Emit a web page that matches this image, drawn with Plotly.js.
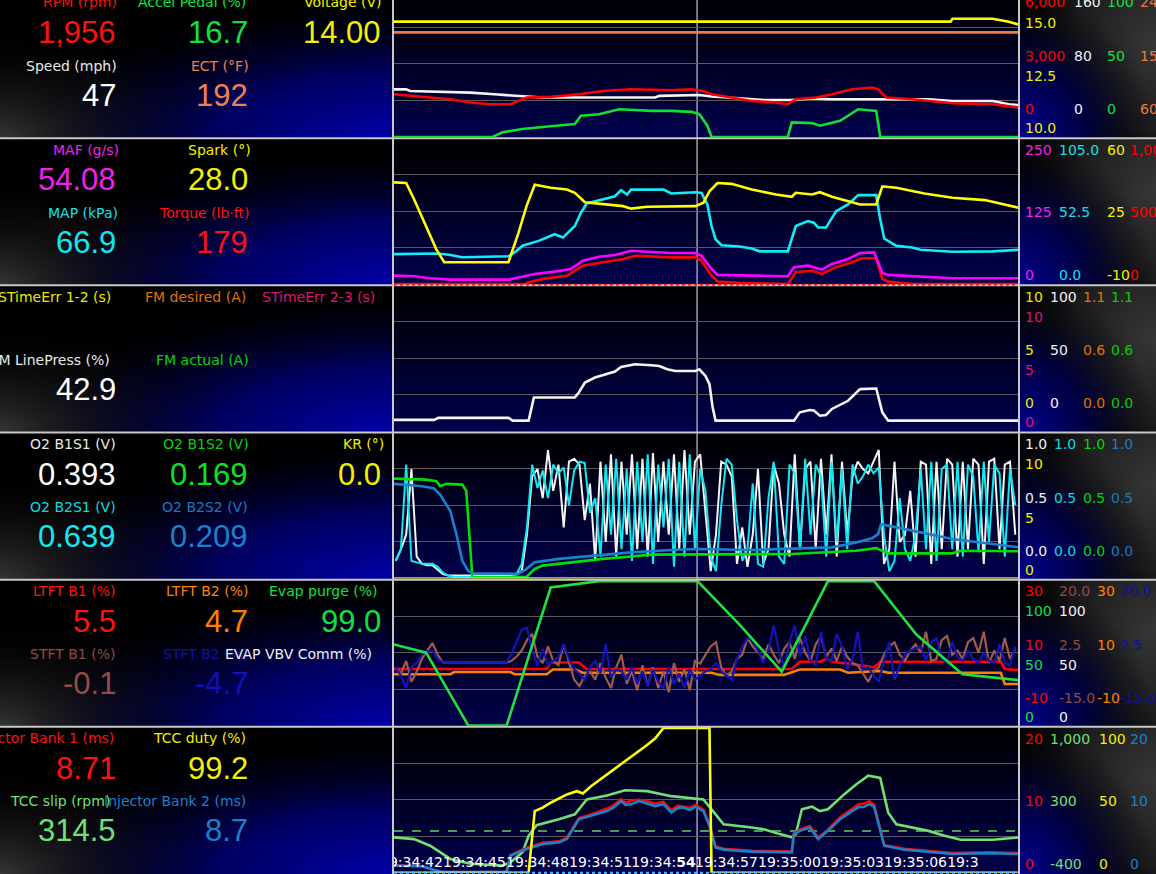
<!DOCTYPE html>
<html><head><meta charset="utf-8">
<script src="https://cdn.plot.ly/plotly-3.0.1.min.js"></script>
<style>
html,body{margin:0;padding:0;background:#000;overflow:hidden;width:1156px;height:874px;}
#chart{position:absolute;left:0;top:-9px;width:1156px;height:883px;}
</style></head><body><div id="chart"></div>
<script>
// ================= DATA (time in seconds after 19:34:00) =================
const timeTickVals = [42,45,48,51,54,57,60,63,66,69];
const timeTickText = ["19:34:42","19:34:45","19:34:48","19:34:51","19:34:<b>54</b>","19:34:57","19:35:00","19:35:03","19:35:06","19:3\u00a0\u00a0\u00a0\u00a0\u00a0\u00a0\u00a0"];
const cursorTime = 55.6;

// Panel 1
const tRpm = [41.17,41.94,42.89,43.85,44.81,45.76,46.72,47.10,47.48,48.63,49.97,51.12,52.46,54.37,55.33,55.90,56.29,57.24,58.20,59.35,59.92,60.30,61.26,62.02,62.98,63.94,64.22,64.61,65.85,67.76,69.68,70.92];
const rpm  = [1755,1686,1620,1551,1416,1347,1347,1482,1620,1650,1755,1890,1959,1918,1959,1890,1755,1620,1482,1416,1347,1551,1620,1755,1959,2029,1959,1620,1551,1388,1347,1212];
const tSpeed = [41.17,41.75,41.94,44.81,45.95,47.10,48.25,53.61,53.80,55.71,56.29,57.62,58.77,60.11,61.07,62.02,66.62,67.76,69.68,70.44,70.92];
const speed  = [52.2,52.2,50.4,48.6,46.8,45.0,43.2,43.2,45.0,46.0,44.3,42.4,40.6,40.6,42.1,41.4,41.4,39.5,39.5,35.9,34.8];
const tAccel = [41.17,45.86,46.34,47.29,48.63,49.78,50.07,50.93,51.89,53.42,54.37,55.33,55.71,56.09,56.29,59.92,60.11,61.07,61.45,62.41,63.27,64.13,64.32,70.92];
const accel  = [0,0,3.2,5.4,7.3,8.8,14.5,15.6,19.0,17.9,17.9,17.2,15.6,7.7,0,0,10.0,9.5,7.7,11.1,19.0,17.9,0,0];
const tEct = [41.17,70.92];
const ect  = [189,189];
const tVolt = [41.17,67.67,67.76,69.68,70.44,70.92];
const volt  = [13.95,13.95,14.05,14.05,13.95,13.85];

// Panel 2
const tSpark = [41.17,41.75,42.13,42.70,43.18,43.56,46.62,47.10,47.48,47.87,48.63,49.40,49.78,50.26,51.31,52.08,52.46,53.22,55.52,55.90,56.19,56.57,57.24,58.20,59.35,60.11,60.30,61.07,61.45,62.02,62.98,63.36,64.13,64.42,65.09,66.42,67.76,69.30,70.92];
const spark  = [38.8,38.5,30.6,17.9,6.8,0.5,0.5,14.7,27.4,37.7,36.2,35.4,33.8,29.3,28.2,27.4,26.2,27.1,27.4,29.0,34.5,38.5,38.1,35.4,33.0,31.9,33.8,33.0,34.1,31.9,29.3,28.2,28.2,36.9,36.2,33.5,31.4,30.3,26.6];
const tMap = [41.17,43.28,43.85,44.42,46.62,46.91,47.29,48.06,48.82,49.21,49.78,50.07,50.35,51.12,51.69,51.98,52.27,52.46,54.00,54.37,55.52,55.81,56.09,56.29,56.48,56.76,57.62,58.20,58.58,59.92,60.30,60.88,61.16,61.36,61.74,62.22,62.79,63.27,64.13,64.32,64.51,65.09,65.85,66.23,67.76,69.68,70.92];
const mapKpa = [21.6,22.0,20.9,19.3,20.0,22.8,27.6,31.1,35.9,33.5,41.8,51.4,58.0,60.9,63.2,67.5,64.5,68.0,68.0,65.2,66.1,65.6,57.3,41.8,32.3,28.0,27.1,25.7,23.6,23.6,41.8,45.4,44.2,40.7,40.7,52.5,57.3,64.0,64.0,46.6,32.8,27.5,26.4,24.7,23.3,23.6,24.7];
const tMaf = [41.17,42.13,42.89,43.85,46.62,47.10,47.87,48.82,49.59,50.16,50.93,51.69,52.46,53.22,54.37,55.52,55.81,56.29,56.57,58.20,59.92,60.21,60.88,61.55,62.02,62.79,63.36,64.03,64.42,64.70,65.85,67.76,70.92];
const maf  = [14.6,13.6,10.2,7.8,7.8,11.9,17.5,21.4,26.0,40.1,46.9,49.8,57.1,55.4,53.2,53.2,48.6,26.0,15.8,14.6,13.6,28.9,31.6,24.8,34.5,43.0,53.2,54.4,19.2,15.8,13.6,10.2,10.2];
const tTorque = [41.17,47.39,47.48,48.25,49.40,50.16,51.12,52.08,52.65,54.37,55.52,55.81,56.29,56.57,57.62,59.92,60.30,61.07,61.55,62.22,62.98,63.46,64.13,64.42,64.70,65.85,70.92];
const torque  = [0,0,8,36,58,126,150,172,194,183,183,160,58,18,9,0,82,92,70,116,150,177,177,36,18,0,0];

// Panel 3
const tLine = [41.17,43.08,43.28,46.62,46.82,47.58,47.83,49.78,49.97,50.26,50.74,51.31,51.69,51.98,52.65,53.42,53.80,54.18,54.56,55.52,55.71,56.00,56.19,56.34,56.48,60.21,60.49,60.97,61.16,61.45,61.74,62.02,62.79,63.36,64.13,64.42,64.70,70.92];
const linePress = [7.8,7.8,9.2,9.2,7.3,7.3,23.2,23.2,26.6,33.4,36.8,39.5,40.9,44.0,45.9,45.2,44.7,42.5,41.3,41.3,42.5,37.9,32.3,16.4,7.3,7.3,13.0,14.6,14.2,10.7,11.2,15.3,20.9,28.9,29.3,13.0,7.3,7.3];

// Fast-sampled channels (0.25 s)
const tFast = [41.25,41.5,41.75,
 42,42.25,42.5,42.75, 43,43.25,43.5,43.75, 44,44.25,44.5,44.75, 45,45.25,45.5,45.75,
 46,46.25,46.5,46.75, 47,47.25,47.5,47.75, 48,48.25,48.5,48.75, 49,49.25,49.5,49.75,
 50,50.25,50.5,50.75, 51,51.25,51.5,51.75, 52,52.25,52.5,52.75, 53,53.25,53.5,53.75,
 54,54.25,54.5,54.75, 55,55.25,55.5,55.75, 56,56.25,56.5,56.75, 57,57.25,57.5,57.75,
 58,58.25,58.5,58.75, 59,59.25,59.5,59.75, 60,60.25,60.5,60.75, 61,61.25,61.5,61.75,
 62,62.25,62.5,62.75, 63,63.25,63.5,63.75, 64,64.25,64.5,64.75, 65,65.25,65.5,65.75,
 66,66.25,66.5,66.75, 67,67.25,67.5,67.75, 68,68.25,68.5,68.75, 69,69.25,69.5,69.75,
 70,70.25,70.5,70.75];

// Panel 4
const o2b1s1 = [0.12,0.2,0.3,
 0.75,0.15,0.1,0.09, 0.09,0.06,0.03,0.02, 0.02,0.02,0.02,0.02, 0.02,0.02,0.02,0.02,
 0.02,0.02,0.02,0.02, 0.03,0.05,0.3,0.7, 0.75,0.55,0.88,0.6, 0.78,0.35,0.8,0.82,
 0.78,0.4,0.65,0.12, 0.8,0.25,0.85,0.15, 0.8,0.3,0.85,0.2, 0.82,0.15,0.86,0.25,
 0.8,0.3,0.85,0.2, 0.88,0.3,0.8,0.85, 0.45,0.05,0.3,0.8, 0.78,0.7,0.1,0.35,
 0.08,0.3,0.75,0.1, 0.2,0.78,0.65,0.3, 0.15,0.85,0.2,0.75, 0.8,0.2,0.82,0.3,
 0.85,0.15,0.8,0.3, 0.7,0.8,0.75,0.72, 0.8,0.88,0.1,0.2, 0.8,0.25,0.3,0.6,
 0.15,0.8,0.78,0.1, 0.8,0.2,0.82,0.78, 0.15,0.8,0.2,0.82, 0.78,0.1,0.8,0.82,
 0.2,0.78,0.8,0.3];
const o2b2s1 = [0.12,0.2,0.78,
 0.12,0.11,0.1,0.1, 0.1,0.08,0.04,0.02, 0.01,0.01,0.01,0.01, 0.01,0.01,0.01,0.01,
 0.01,0.01,0.01,0.01, 0.03,0.1,0.35,0.78, 0.62,0.74,0.55,0.78, 0.72,0.76,0.5,0.74,
 0.8,0.79,0.45,0.55, 0.15,0.78,0.3,0.82, 0.2,0.75,0.12,0.8, 0.25,0.85,0.1,0.78,
 0.35,0.82,0.08,0.8, 0.15,0.85,0.2,0.75, 0.6,0.15,0.05,0.5, 0.82,0.78,0.4,0.12,
 0.2,0.65,0.1,0.08, 0.55,0.8,0.15,0.1, 0.78,0.72,0.2,0.82, 0.3,0.78,0.7,0.15,
 0.8,0.25,0.75,0.2, 0.78,0.65,0.7,0.78, 0.72,0.76,0.3,0.05, 0.12,0.55,0.2,0.12,
 0.3,0.75,0.2,0.8, 0.12,0.75,0.78,0.2, 0.8,0.15,0.78,0.7, 0.18,0.8,0.25,0.78,
 0.72,0.15,0.75,0.5];
const tB1S2 = [41.17,42.70,43.18,43.37,43.66,44.42,44.61,44.90,47.48,47.87,48.25,49.59,51.12,52.46,53.42,60.11,62.02,63.17,64.13,64.42,64.70,67.76,68.15,70.92];
const o2b1s2 = [0.684,0.677,0.666,0.632,0.648,0.643,0.6,0.01,0.01,0.066,0.088,0.111,0.134,0.15,0.163,0.168,0.179,0.19,0.208,0.19,0.172,0.172,0.19,0.186];
const tB2S2 = [41.17,42.51,43.08,43.37,43.85,44.14,44.42,44.71,45.00,47.10,47.48,47.87,49.02,50.55,52.46,54.37,55.65,58.20,60.11,62.02,63.17,63.94,64.22,64.36,65.09,65.85,67.76,69.68,70.92];
const o2b2s2 = [0.648,0.632,0.616,0.575,0.462,0.304,0.122,0.05,0.036,0.032,0.066,0.111,0.134,0.156,0.179,0.195,0.202,0.195,0.202,0.213,0.247,0.276,0.304,0.372,0.35,0.326,0.27,0.236,0.213];
const tKr = [41.17,70.92];
const kr  = [0,0];

// Panel 5
const tLtft1 = [41.17,48.44,48.63,49.97,50.35,60.11,60.49,61.45,61.74,62.02,62.79,64.03,64.32,70.06,70.25,70.92];
const ltft1  = [5.5,5.5,7.3,7.3,5.5,5.5,7.5,7.5,8.4,7.5,7.0,6.0,7.5,7.5,5.5,5.2];
const tLtft2 = [41.17,43.85,44.04,46.72,46.91,48.44,48.73,49.78,50.16,56.29,56.67,59.73,60.49,62.41,62.79,64.32,64.70,70.06,70.25,70.92];
const ltft2  = [4.1,4.1,4.7,4.7,4.1,4.1,5.4,5.4,4.5,4.5,3.9,3.9,5.4,5.4,4.5,5.0,4.5,4.5,1.4,1.4];
const stft1 = [-1.0,-2.5,0.5,
 -4.5,-2.0,1.0,3.0, 4.8,2.0,0.1,0.1, 0.1,0.1,0.1,0.1, 0.1,0.1,0.1,0.1,
 0.1,0.1,0.1,0.5, 1.5,3.0,5.5,7.0, 1.5,0.0,4.0,0.5, -0.5,4.5,0.0,-4.0,
 -5.5,-3.0,-2.0,-4.0, 0.0,-3.5,-6.0,-1.0, 2.0,-5.0,-2.0,-6.5, -0.5,-5.5,-1.0,-6.0,
 -2.0,-7.0,0.0,-4.5, -1.5,-6.5,0.5,-0.1, 2.0,4.0,5.0,-1.0, -3.0,-2.0,1.0,2.0,
 6.0,4.0,2.5,1.0, 4.5,2.0,0.0,3.5, 5.0,1.0,6.0,2.5, 0.5,4.5,6.5,1.5,
 3.5,0.5,4.0,1.5, 0.0,-0.5,-2.5,-4.5, -2.0,-1.0,2.0,4.0, 5.0,2.0,0.5,3.0,
 4.5,2.5,7.5,0.5, 1.0,5.5,6.5,2.0, 3.0,1.0,5.0,6.0, 2.5,7.5,0.0,3.0,
 0.5,6.0,1.0,3.5];
const stft2 = [-1.0,-3.0,-6.0,
 -1.0,0.0,2.0,2.8, 3.0,1.0,0.1,0.1, 0.1,0.1,0.1,0.1, 0.1,0.1,0.1,0.1,
 0.1,0.1,0.1,2.0, 5.0,8.0,8.5,3.0, -0.5,3.5,-0.5,0.5, 1.5,4.5,1.0,-1.5,
 -2.5,-4.0,-1.0,0.5, -2.5,4.5,-3.5,-1.5, -2.0,-4.0,-1.0,-5.0, -2.0,-5.5,-1.5,-4.5,
 -6.0,-1.0,-5.0,-2.5, -6.0,-1.5,-4.0,-3.0, -2.0,-1.5,0.0,-2.0, -3.0,-4.0,1.0,4.0,
 6.0,5.5,3.0,0.0, 3.0,9.0,3.0,-1.5, 5.0,9.0,1.5,6.5, 0.5,-0.5,7.5,1.0,
 0.5,7.0,4.0,-1.5, 1.0,7.5,-1.5,-1.0, -3.0,-4.5,0.5,5.0, -4.0,-0.5,2.0,3.0,
 3.5,4.0,0.5,5.0, 6.0,1.0,0.0,5.0, 1.5,0.5,3.0,1.0, 0.0,2.5,0.5,0.0,
 4.5,0.0,-0.5,4.0];
const tEvap = [41.17,42.70,44.71,46.53,48.63,50.93,55.62,57.62,59.63,61.83,64.03,66.04,68.24,70.92];
const evap  = [55.6,50.0,0,0,94.6,99.0,99.0,69.2,37.0,99.0,99.0,62.4,35.2,31.1];

// Panel 6
const tDuty = [41.17,47.58,47.87,48.25,48.63,49.40,49.88,50.16,50.55,51.31,52.08,52.46,53.22,53.61,54.00,56.19,56.29,70.92];
const tccDuty = [0,0,42.3,44.6,48.0,53.7,55.9,54.3,59.3,67.3,75.2,79.7,87.6,92.2,99.2,99.2,0,0];
const tSlip = [41.17,42.13,42.89,43.85,44.81,46.34,46.72,47.29,47.58,47.96,49.02,49.78,50.35,51.31,52.17,53.22,54.37,55.52,55.90,56.29,56.86,58.20,58.77,59.54,60.11,60.30,60.59,61.07,61.45,61.83,62.60,63.17,63.75,64.32,64.70,65.09,65.85,66.62,67.38,68.15,69.68,70.92];
const tccSlip = [-60,-77,-140,-267,-314,-331,-298,-203,-45,56,114,161,304,342,392,383,335,311,304,209,66,34,18,-29,-60,-29,209,234,192,209,352,447,532,510,177,66,34,2,-45,-83,-83,-60];
const tInj = [41.17,42.51,43.08,43.47,46.53,46.72,47.48,48.25,49.02,49.40,49.97,50.55,51.31,51.6,51.98,52.2,52.46,52.84,53.2,53.61,54.0,54.37,54.7,54.95,55.25,55.52,55.90,56.19,56.48,56.86,58.20,60.11,60.21,60.49,60.97,61.36,61.83,62.41,62.98,63.3,63.56,63.8,64.03,64.32,64.51,65.47,67.76,69.5,70.92];
const inj1 = [1.0,0.9,0.4,0.1,0.1,2.4,3.4,4.1,4.3,4.8,7.5,8.0,8.8,9.2,10.1,9.6,9.9,10.0,9.8,9.5,9.7,8.6,9.2,9.1,8.9,9.3,8.7,6.6,3.6,3.3,3.0,2.9,5.4,5.9,6.4,4.8,5.9,7.6,8.7,9.4,9.5,9.8,9.3,6.1,3.8,3.3,2.7,2.8,2.7];
const inj2 = [1.0,0.9,0.4,0.1,0.1,2.35,3.26,3.94,4.17,4.62,7.34,7.78,8.46,8.9,9.82,9.3,9.38,9.82,9.5,9.14,9.4,8.25,8.9,8.93,8.6,9.06,8.46,6.43,3.49,3.17,2.9,2.8,5.3,5.75,6.2,4.62,5.75,7.34,8.46,9.0,9.06,9.4,9.06,5.98,3.71,3.17,2.58,2.7,2.58];

// Readouts (left panels)
const readoutLabels = [
 ["RPM (rpm)","Accel Pedal (%)","Voltage (V)","Speed (mph)","ECT (°F)"],
 ["MAF (g/s)","Spark (°)","MAP (kPa)","Torque (lb·ft)"],
 ["STimeErr 1-2 (s)","FM desired (A)","STimeErr 2-3 (s)","TCM LinePress (%)","FM actual (A)"],
 ["O2 B1S1 (V)","O2 B1S2 (V)","KR (°)","O2 B2S1 (V)","O2 B2S2 (V)"],
 ["LTFT B1 (%)","LTFT B2 (%)","Evap purge (%)","STFT B1 (%)","STFT B2 (%)","EVAP VBV Comm (%)"],
 ["Injector Bank 1 (ms)","TCC duty (%)","TCC slip (rpm)","Injector Bank 2 (ms)"]
];
const readoutValues = [
 ["1,956","16.7","14.00","47","192"],
 ["54.08","28.0","66.9","179"],
 ["","","","42.9",""],
 ["0.393","0.169","0.0","0.639","0.209"],
 ["5.5","4.7","99.0","-0.1","-4.7",""],
 ["8.71","99.2","314.5","8.7"]
];
// Scale labels (right panels): per column [top, middle, bottom]
const scaleLabels = [
 [["6,000","3,000","0"],["160","80","0"],["100","50","0"],["240","150","60"]],
 [["250","125","0"],["105.0","52.5","0.0"],["60","25","-10"],["1,000","500","0"]],
 [["10","5","0"],["100","50","0"],["1.1","0.6","0.0"],["1.1","0.6","0.0"]],
 [["1.0","0.5","0.0"],["1.0","0.5","0.0"],["1.0","0.5","0.0"],["1.0","0.5","0.0"]],
 [["30","10","-10"],["20.0","2.5","-15.0"],["30","10","-10"],["20.0","2.5","-15.0"]],
 [["20","10","0"],["1,000","300","-400"],["100","50","0"],["20","10","0"]]
];
const scaleLabels2 = [
 [["15.0","12.5","10.0"]],
 [],
 [["10","5","0"]],
 [["10","5","0"]],
 [["100","50","0"],["100","50","0"]],
 []
];

// ================= LAYOUT / STYLE =================
const W = 1156, H = 883, OFF = 9, PH = H / 6;
const X0 = 394, X1 = 1018;
const px = x => x / W;
const py = y => 1 - (y + OFF) / H;      // screen pixel -> paper
const pTop = i => i * PH - OFF;          // screen top of panel i

const RED='#ff0000', ORANGE='#f07840', YEL='#ffff00', GREEN='#10e030',
      MAG='#ff00ff', CYAN='#10eef5', BLUE2='#1a80c8', NAVY='#1414b4', BROWN='#a05a4c',
      LORANGE='#ff8000', LGREEN='#70e070', PINK='#e0107a', FMO='#e07000', FMG='#00d000', O2G='#00e000';

const panels = [
 [ {x:tVolt,y:volt,r:[10,15],c:YEL}, {x:tEct,y:ect,r:[60,240],c:ORANGE}, {x:tAccel,y:accel,r:[0,100],c:GREEN},
   {x:tSpeed,y:speed,r:[0,160],c:'#f4f4f4'}, {x:tRpm,y:rpm,r:[0,6000],c:RED} ],
 [ {x:tTorque,y:torque,r:[0,1000],c:RED}, {x:tMaf,y:maf,r:[0,250],c:MAG}, {x:tMap,y:mapKpa,r:[0,105],c:CYAN},
   {x:tSpark,y:spark,r:[-10,60],c:YEL} ],
 [ {x:tLine,y:linePress,r:[0,100],c:'#f4f4f4'} ],
 [ {x:tFast,y:o2b1s1,r:[0,1],c:'#f4f4f4',w:2}, {x:tFast,y:o2b2s1,r:[0,1],c:'#10e8f0',w:2},
   {x:tB1S2,y:o2b1s2,r:[0,1],c:O2G}, {x:tB2S2,y:o2b2s2,r:[0,1],c:BLUE2}, {x:tKr,y:kr,r:[0,10],c:'#e8e800'} ],
 [ {x:tLtft1,y:ltft1,r:[-10,30],c:RED}, {x:tLtft2,y:ltft2,r:[-10,30],c:LORANGE},
   {x:tFast,y:stft1,r:[-15,20],c:BROWN,w:2.2}, {x:tFast,y:stft2,r:[-15,20],c:NAVY,w:2.2}, {x:tEvap,y:evap,r:[0,100],c:'#20e040'} ],
 [ {x:tSlip,y:tccSlip,r:[-400,1000],c:LGREEN}, {x:tInj,y:inj1,r:[0,20],c:RED}, {x:tInj,y:inj2,r:[0,20],c:BLUE2},
   {x:tDuty,y:tccDuty,r:[0,100],c:YEL} ]
];

const layout = {
  width: W, height: H, margin: {l:0,r:0,t:0,b:0,autoexpand:false},
  paper_bgcolor: '#000', plot_bgcolor: 'rgba(0,0,0,0)',
  showlegend: false, hovermode: false,
  xaxis: {
    domain: [px(X0), px(X1)], range: [41.17, 70.88], fixedrange: true,
    showgrid: false, zeroline: false, showline: false, ticks: '',
    tickmode: 'array', tickvals: timeTickVals, ticktext: timeTickText,
    tickangle: 0, ticklabelposition: 'inside', ticklabeloverflow: 'allow',
    tickfont: {family: 'DejaVu Sans', size: 14, color: '#ffffff'}
  },
  images: [], shapes: [], annotations: []
};

const traces = [];
const baseAxes = [];
let n = 0;
panels.forEach((list, pi) => {
  const top = 1 - pi * PH / H, bot = 1 - ((pi + 1) * PH - 1.2) / H;
  let base = null;
  list.forEach((s, si) => {
    n++;
    const key = n === 1 ? 'yaxis' : 'yaxis' + n;
    const ref = n === 1 ? 'y' : 'y' + n;
    const ax = {range: s.r, showticklabels: false, zeroline: false, showline: false, ticks: '', fixedrange: true, anchor: 'x'};
    if (si === 0) {
      ax.domain = [bot, top]; ax.showgrid = true; ax.gridcolor = '#5a5a5a'; ax.gridwidth = 1;
      ax.tickmode = 'linear'; ax.tick0 = s.r[0]; ax.dtick = (s.r[1] - s.r[0]) / 4;
      base = ref; baseAxes.push(ref);
    } else { ax.overlaying = base; ax.showgrid = false; }
    layout[key] = ax;
    traces.push({type: 'scatter', mode: 'lines', x: s.x, y: s.y, yaxis: ref, xaxis: 'x',
                 line: {color: s.c, width: s.w || 2.6}, hoverinfo: 'skip'});
  });
});
layout.xaxis.anchor = baseAxes[5];

// ---- background images (gradients) ----
const uri = s => 'data:image/svg+xml;charset=utf-8,' + encodeURIComponent(s);
const leftBg = uri('<svg xmlns="http://www.w3.org/2000/svg" width="400" height="150" viewBox="0 0 400 150" preserveAspectRatio="none"><defs>' +
 '<radialGradient id="b" cx="1" cy="1" r="1"><stop offset="0" stop-color="#0000a8"/><stop offset="0.45" stop-color="#000060"/><stop offset="1" stop-color="#000000" stop-opacity="0"/></radialGradient>' +
 '<radialGradient id="g" cx="0" cy="1" r="0.75"><stop offset="0" stop-color="#363636"/><stop offset="1" stop-color="#000000" stop-opacity="0"/></radialGradient></defs>' +
 '<rect width="400" height="150" fill="#000"/><rect width="400" height="150" fill="url(#g)"/><rect width="400" height="150" fill="url(#b)"/></svg>');
const rightBg = uri('<svg xmlns="http://www.w3.org/2000/svg" width="140" height="150" viewBox="0 0 140 150" preserveAspectRatio="none"><defs>' +
 '<radialGradient id="b" cx="0" cy="1" r="1"><stop offset="0" stop-color="#000090"/><stop offset="0.5" stop-color="#000040"/><stop offset="1" stop-color="#000000" stop-opacity="0"/></radialGradient>' +
 '<radialGradient id="g" cx="1" cy="0.35" r="1.2"><stop offset="0" stop-color="#363636"/><stop offset="0.5" stop-color="#1c1c1c"/><stop offset="1" stop-color="#000000" stop-opacity="0"/></radialGradient></defs>' +
 '<rect width="140" height="150" fill="#000"/><rect width="140" height="150" fill="url(#g)"/><rect width="140" height="150" fill="url(#b)"/></svg>');
const plotBg = uri('<svg xmlns="http://www.w3.org/2000/svg" width="100" height="150" viewBox="0 0 100 150" preserveAspectRatio="none"><defs>' +
 '<linearGradient id="v" x1="0" y1="0" x2="0" y2="1"><stop offset="0" stop-color="#000000"/><stop offset="1" stop-color="#00004c"/></linearGradient></defs>' +
 '<rect width="100" height="150" fill="url(#v)"/></svg>');

for (let i = 0; i < 6; i++) {
  const yTop = 1 - i * PH / H, sy = PH / H;
  layout.images.push({source: leftBg, xref: 'paper', yref: 'paper', x: 0, y: yTop, sizex: px(393), sizey: sy,
    xanchor: 'left', yanchor: 'top', sizing: 'stretch', layer: 'above'});
  layout.images.push({source: rightBg, xref: 'paper', yref: 'paper', x: px(1019), y: yTop, sizex: px(W - 1019), sizey: sy,
    xanchor: 'left', yanchor: 'top', sizing: 'stretch', layer: 'above'});
  layout.images.push({source: plotBg, xref: 'paper', yref: 'paper', x: px(X0 - 1), y: yTop, sizex: px(X1 - X0 + 2), sizey: sy,
    xanchor: 'left', yanchor: 'top', sizing: 'stretch', layer: 'below'});
}

// ---- shapes ----
layout.shapes.push({type: 'line', xref: 'x', yref: 'paper', x0: cursorTime, x1: cursorTime, y0: 0, y1: 1,
  line: {color: '#ececec', width: 1}, layer: 'below'});
layout.shapes.push({type: 'line', xref: 'x domain', yref: baseAxes[5], x0: 0, x1: 1, y0: 0, y1: 0,
  line: {color: '#60d060', width: 1.5, dash: 'dash'}, layer: 'below'});
for (let i = 1; i < 6; i++) {
  const yy = 1 - i * PH / H;
  layout.shapes.push({type: 'line', xref: 'paper', yref: 'paper', x0: 0, x1: 1, y0: yy, y1: yy,
    line: {color: '#c8c8c8', width: 2}, layer: 'above'});
}
layout.shapes.push({type: 'line', xref: 'paper', yref: 'paper', x0: px(393), x1: px(393), y0: 0, y1: 1,
  line: {color: '#c8c8c8', width: 2}, layer: 'above'});
layout.shapes.push({type: 'line', xref: 'paper', yref: 'paper', x0: px(1019), x1: px(1019), y0: 0, y1: 1,
  line: {color: '#c8c8c8', width: 2}, layer: 'above'});
const yP2 = 1 - 2 * PH / H + 0.6 / H;
layout.shapes.push({type: 'line', xref: 'paper', yref: 'paper', x0: px(X0), x1: px(X1), y0: yP2, y1: yP2,
  line: {color: '#ff2020', width: 2, dash: 'dot'}, layer: 'above'});
layout.shapes.push({type: 'line', xref: 'paper', yref: 'paper', x0: px(X0), x1: px(X1), y0: 1.2 / H, y1: 1.2 / H,
  line: {color: '#50c0ff', width: 2, dash: 'dot'}, layer: 'above'});

// ---- readout annotations ----
const slots = [
 [[0,0],[1,0],[2,0],[0,1],[1,1]],
 [[0,0],[1,0],[0,1],[1,1]],
 [[0,0],[1,0],[2,0],[0,1],[1,1]],
 [[0,0],[1,0],[2,0],[0,1],[1,1]],
 [[0,0],[1,0],[2,0],[0,1],[1,1],[2,1]],
 [[0,0],[1,0],[0,1],[1,1]]
];
const labelCols = [
 ['#ff1010','#10e040','#f0f000','#e8e8e8','#f08050'],
 ['#f020f0','#f0f000','#10e0e8','#ff1010'],
 ['#e8e800','#e07000','#e0107a','#e8e8e8','#00d800'],
 ['#e8e8e8','#00d800','#f0f000','#10d8e0','#1a78c0'],
 ['#ff1010','#ff8000','#10e040','#8e4c44','#1010a8','#f0f0f0'],
 ['#ff1010','#f0f000','#70e070','#1a80c8']
];
const valueCols = [
 ['#ff1010','#10e040','#f0f000','#ffffff','#f08050'],
 ['#f020f0','#f0f000','#10e8f0','#ff1010'],
 ['#e8e800','#e07000','#e0107a','#ffffff','#00d800'],
 ['#ffffff','#10e020','#f0f000','#10e8f0','#1a80c8'],
 ['#ff1010','#ff8000','#10e040','#964c44','#1010b4','#f0f0f0'],
 ['#ff1010','#f0f000','#70e070','#1a80c8']
];
const labelRight = [
 [119,248,383,119,251],
 [121,253,120,251],
 [113,248,377,112,251],
 [118,251,386,118,250],
 [117,250,380,117,250,374],
 [116,248,112,248]
];
const valueRight = [118, 250, 383];
const rowOff = [[11.5, 41.5], [74.5, 104]];
readoutLabels.forEach((labs, pi) => {
  const T = pTop(pi);
  labs.forEach((lab, k) => {
    const [col, row] = slots[pi][k];
    layout.annotations.push({xref: 'paper', yref: 'paper', x: px(labelRight[pi][k]), y: py(T + rowOff[row][0]),
      xanchor: 'right', yanchor: 'middle', showarrow: false, text: lab,
      font: {family: 'DejaVu Sans', size: 14, color: labelCols[pi][k]}});
    const v = readoutValues[pi][k];
    if (v) layout.annotations.push({xref: 'paper', yref: 'paper', x: px(valueRight[col]), y: py(T + rowOff[row][1]),
      xanchor: 'right', yanchor: 'middle', showarrow: false, text: v,
      font: {family: 'Liberation Sans', size: 31, color: valueCols[pi][k]}});
  });
});

// ---- scale annotations ----
const scaleX = [[1023,1072,1105,1138],[1023,1057,1105,1128],[1023,1048,1081,1109],[1023,1052,1081,1109],[1023,1057,1095,1118],[1023,1048,1097,1128]];
const scaleX2 = [[1023],[],[1023],[1023],[1023,1057],[]];
const scaleCols = [
 [RED,'#f0f0f0','#10e040',ORANGE],
 ['#f020f0','#10e0e8','#f0f000',RED],
 ['#e8e800','#f0f0f0',FMO,FMG],
 ['#f0f0f0','#10d8e0','#00d800','#1a78c0'],
 [RED,'#8e4c44',LORANGE,'#1010a8'],
 [RED,LGREEN,'#f0f000','#1a80c8']
];
const scaleCols2 = [['#f0f000'],[],[PINK],['#f0f000'],['#10e040','#f0f0f0'],[]];
scaleLabels.forEach((cols, pi) => {
  const T = pTop(pi);
  const two = scaleLabels2[pi].length > 0;
  const rowsA = two ? [11.5, 65, 118] : [12, 74, 137];
  const rowsB = [31.5, 85, 137];
  cols.forEach((vals, c) => vals.forEach((v, r) => layout.annotations.push({xref: 'paper', yref: 'paper',
    x: px(scaleX[pi][c]), y: py(T + rowsA[r]), xanchor: 'left', yanchor: 'middle', showarrow: false, text: v,
    font: {family: 'DejaVu Sans', size: 14, color: scaleCols[pi][c]}})));
  scaleLabels2[pi].forEach((vals, c) => vals.forEach((v, r) => layout.annotations.push({xref: 'paper', yref: 'paper',
    x: px(scaleX2[pi][c]), y: py(T + rowsB[r]), xanchor: 'left', yanchor: 'middle', showarrow: false, text: v,
    font: {family: 'DejaVu Sans', size: 14, color: scaleCols2[pi][c]}})));
});

Plotly.newPlot('chart', traces, layout, {displayModeBar: false, staticPlot: true});
</script></body></html>
